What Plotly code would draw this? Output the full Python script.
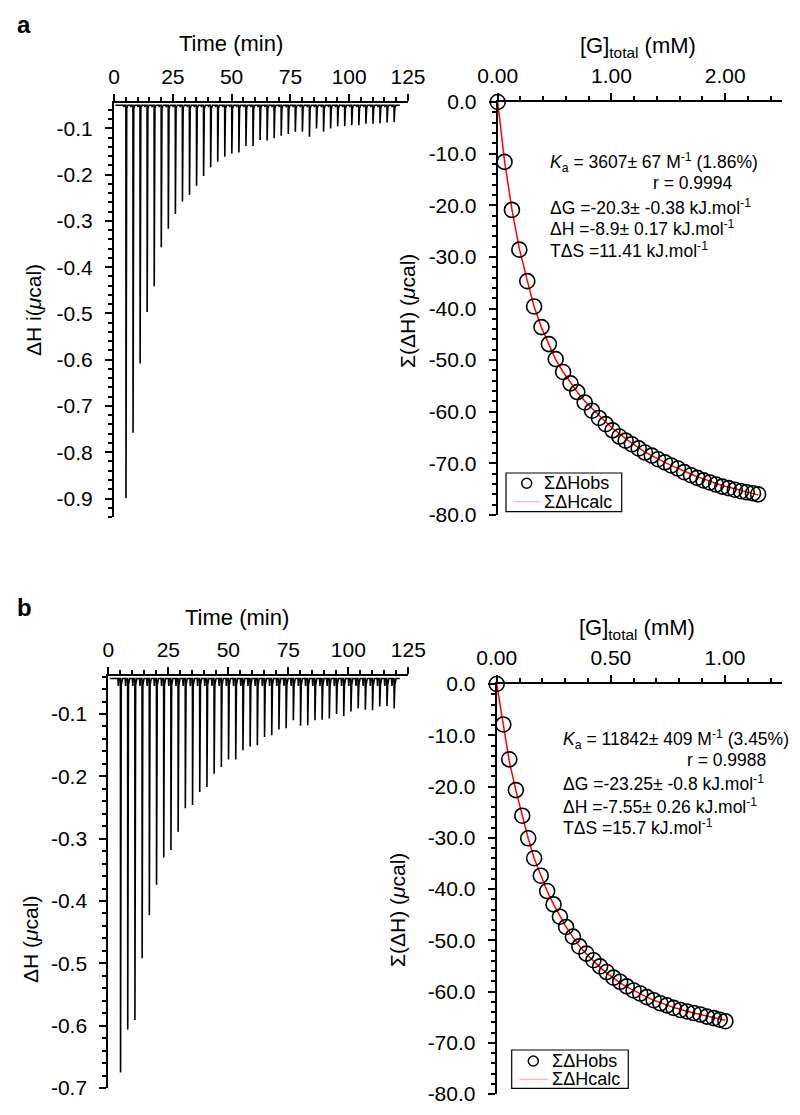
import plotly.graph_objects as go

# ---------------- data ----------------
inj_time = [5.1, 8.1, 11.1, 14.1, 17.1, 20.1, 23.1, 26.1, 29.1, 32.1, 35.1, 38.1, 41.1,
            44.1, 47.1, 50.1, 53.1, 56.1, 59.1, 62.1, 65.1, 68.1, 71.1, 74.1, 77.1, 80.1,
            83.1, 86.1, 89.1, 92.1, 95.1, 98.1, 101.1, 104.1, 107.1, 110.1, 113.1, 116.1, 119.1]

peak_a = [-0.899, -0.758, -0.608, -0.497, -0.441, -0.357, -0.317, -0.285, -0.258, -0.244,
          -0.224, -0.203, -0.184, -0.172, -0.161, -0.154, -0.152, -0.138, -0.138, -0.125,
          -0.126, -0.121, -0.116, -0.112, -0.107, -0.107, -0.118, -0.100, -0.107, -0.100,
          -0.095, -0.095, -0.093, -0.093, -0.090, -0.090, -0.089, -0.087, -0.086]
baseline_a = -0.050

peak_b = [-0.675, -0.606, -0.591, -0.492, -0.423, -0.374, -0.330, -0.318, -0.289, -0.251,
          -0.246, -0.225, -0.217, -0.196, -0.185, -0.173, -0.173, -0.158, -0.152, -0.150,
          -0.137, -0.134, -0.125, -0.123, -0.110, -0.119, -0.118, -0.110, -0.109, -0.107,
          -0.100, -0.103, -0.096, -0.091, -0.093, -0.094, -0.088, -0.087, -0.091]
baseline_b = -0.043

conc_a = [0, 0.06, 0.125, 0.19, 0.26, 0.32, 0.385, 0.45, 0.51, 0.575,
          0.64, 0.70, 0.765, 0.83, 0.89, 0.95, 1.01, 1.07, 1.125, 1.18,
          1.24, 1.295, 1.355, 1.41, 1.47, 1.525, 1.585, 1.64, 1.70, 1.755,
          1.81, 1.865, 1.92, 1.975, 2.03, 2.085, 2.14, 2.19, 2.245, 2.29]
obs_a = [0, -11.6, -20.9, -28.6, -34.7, -39.6, -43.6, -46.9, -49.8, -52.3,
         -54.5, -56.2, -58.2, -59.8, -61.2, -62.4, -63.6, -64.8, -65.6, -66.3,
         -67.1, -67.9, -68.5, -69.2, -69.8, -70.4, -71.0, -71.7, -72.3, -72.8,
         -73.3, -73.7, -74.1, -74.5, -74.8, -75.1, -75.4, -75.6, -75.8, -76.0]
calc_a = [0, -11.4, -20.8, -28.4, -34.6, -39.6, -43.7, -47.1, -49.9, -52.3,
          -54.4, -56.2, -57.9, -59.4, -60.8, -62.0, -63.2, -64.3, -65.2, -66.1,
          -67.0, -67.8, -68.5, -69.2, -69.8, -70.4, -71.0, -71.5, -72.1, -72.6,
          -73.0, -73.5, -73.9, -74.3, -74.6, -75.0, -75.3, -75.6, -75.8, -76.1]

conc_b = [0, 0.029, 0.055, 0.084, 0.112, 0.138, 0.164, 0.193, 0.221, 0.249,
          0.277, 0.304, 0.334, 0.362, 0.393, 0.424, 0.453, 0.482, 0.512, 0.541,
          0.570, 0.600, 0.629, 0.658, 0.688, 0.717, 0.746, 0.775, 0.805, 0.834,
          0.863, 0.892, 0.921, 0.951, 0.977, 1.002]
obs_b = [0, -7.9, -14.7, -20.7, -25.7, -30.1, -34.0, -37.4, -40.4, -43.0,
         -45.4, -47.4, -49.3, -51.2, -52.6, -53.9, -55.1, -56.2, -57.3, -58.1,
         -59.0, -59.8, -60.4, -61.1, -61.7, -62.3, -62.7, -63.2, -63.6, -63.9,
         -64.2, -64.5, -64.9, -65.2, -65.5, -65.8]
calc_b = [0, -8.3, -15.0, -20.8, -25.8, -30.1, -34.0, -37.4, -40.4, -43.0,
          -45.3, -47.4, -49.4, -51.1, -52.7, -54.1, -55.3, -56.4, -57.4, -58.3,
          -59.1, -59.8, -60.5, -61.1, -61.7, -62.2, -62.7, -63.1, -63.5, -63.9,
          -64.2, -64.5, -64.8, -65.1, -65.4, -65.6]

# tick labels
time_ticks = [0, 25, 50, 75, 100, 125]
time_labels = ["0", "25", "50", "75", "100", "125"]
dh_a_ticks = [-0.1, -0.2, -0.3, -0.4, -0.5, -0.6, -0.7, -0.8, -0.9]
dh_a_labels = ["-0.1", "-0.2", "-0.3", "-0.4", "-0.5", "-0.6", "-0.7", "-0.8", "-0.9"]
dh_b_ticks = [-0.1, -0.2, -0.3, -0.4, -0.5, -0.6, -0.7]
dh_b_labels = ["-0.1", "-0.2", "-0.3", "-0.4", "-0.5", "-0.6", "-0.7"]
sum_ticks = [0, -10, -20, -30, -40, -50, -60, -70, -80]
sum_labels = ["0.0", "-10.0", "-20.0", "-30.0", "-40.0", "-50.0", "-60.0", "-70.0", "-80.0"]
conc_a_ticks = [0, 1, 2]
conc_a_labels = ["0.00", "1.00", "2.00"]
conc_b_ticks = [0, 0.5, 1.0]
conc_b_labels = ["0.00", "0.50", "1.00"]

legend_names = ["ΣΔHobs", "ΣΔHcalc"]

text_a = ["<i>K</i><sub>a</sub> = 3607± 67 M<sup>-1</sup> (1.86%)", "r = 0.9994",
          "ΔG =-20.3± -0.38 kJ.mol<sup>-1</sup>", "ΔH =-8.9± 0.17 kJ.mol<sup>-1</sup>",
          "TΔS =11.41 kJ.mol<sup>-1</sup>"]
text_b = ["<i>K</i><sub>a</sub> = 11842± 409 M<sup>-1</sup> (3.45%)", "r = 0.9988",
          "ΔG =-23.25± -0.8 kJ.mol<sup>-1</sup>", "ΔH =-7.55± 0.26 kJ.mol<sup>-1</sup>",
          "TΔS =15.7 kJ.mol<sup>-1</sup>"]

# ---------------- helpers ----------------
# the page body has an 8px margin, so the figure is 8px smaller and offset
OFF = 8
W, H = 800 - OFF, 1115 - OFF
FONT = "Arial, 'Liberation Sans', sans-serif"


def px(x):
    return (x - OFF) / W


def py(y):
    return 1 - (y - OFF) / H


def thermogram(times, peaks, base, pre, tail):
    xs, ys = [0.6], [base]
    for t, d in zip(times, peaks):
        xs += [t - 1.1, t - 0.9, t - 0.7, t - 0.05, t, t + 0.3, t + 0.8]
        ys += [base, base - pre, base, base, d, base - tail, base]
    xs.append(121.5)
    ys.append(base)
    return xs, ys


fig = go.Figure()

xa, ya = thermogram(inj_time, peak_a, baseline_a, 0.004, 0.006)
fig.add_trace(go.Scatter(x=xa, y=ya, mode="lines", line=dict(color="black", width=1.6),
                         showlegend=False, xaxis="x", yaxis="y"))
xb, yb = thermogram(inj_time, peak_b, baseline_b, 0.012, 0.010)
fig.add_trace(go.Scatter(x=xb, y=yb, mode="lines", line=dict(color="black", width=1.6),
                         showlegend=False, xaxis="x3", yaxis="y3"))

for conc, obs, calc, xax, yax in [(conc_a, obs_a, calc_a, "x2", "y2"),
                                  (conc_b, obs_b, calc_b, "x4", "y4")]:
    fig.add_trace(go.Scatter(x=conc, y=calc, mode="lines", name=legend_names[1],
                             line=dict(color="#ff0000", width=1.5),
                             showlegend=False, xaxis=xax, yaxis=yax, cliponaxis=False))
    fig.add_trace(go.Scatter(x=conc, y=obs, mode="markers", name=legend_names[0],
                             marker=dict(symbol="circle-open", size=15, color="black",
                                         line=dict(width=1.6, color="black")),
                             showlegend=False, xaxis=xax, yaxis=yax, cliponaxis=False))

axis_common = dict(showline=True, linecolor="black", linewidth=2, ticks="outside",
                   ticklen=7, tickwidth=1.5, tickcolor="black", showgrid=False,
                   zeroline=False, automargin=False,
                   tickfont=dict(size=21, color="black", family=FONT))
x_common = dict(axis_common, side="top", ticklabelstandoff=2)
y_common = dict(axis_common, ticklabelstandoff=8)


def minor(d):
    return dict(dtick=d, ticks="outside", ticklen=4, tickwidth=1.5, tickcolor="black",
                showgrid=False)


layout = dict(
    template="none",
    width=W, height=H, margin=dict(l=0, r=0, t=0, b=0, autoexpand=False),
    plot_bgcolor="white", paper_bgcolor="white", showlegend=False,
    font=dict(family=FONT, color="black"),
    xaxis=dict(x_common, domain=[px(114), px(408)], range=[0, 125], anchor="y",
               tickvals=time_ticks, ticktext=time_labels, minor=minor(5)),
    yaxis=dict(y_common, domain=[py(517), py(103)], range=[-0.94, -0.045], anchor="x",
               tickvals=dh_a_ticks, ticktext=dh_a_labels, minor=minor(0.02)),
    xaxis2=dict(x_common, domain=[px(497.7), px(782)], range=[0, 2.5], anchor="y2",
                tickvals=conc_a_ticks, ticktext=conc_a_labels, minor=minor(0.2)),
    yaxis2=dict(y_common, domain=[py(515), py(102)], range=[-80, 0], anchor="x2",
                tickvals=sum_ticks, ticktext=sum_labels, minor=minor(2)),
    xaxis3=dict(x_common, domain=[px(108.3), px(408.3)], range=[0, 125], anchor="y3",
                tickvals=time_ticks, ticktext=time_labels, minor=minor(5)),
    yaxis3=dict(y_common, domain=[py(1088), py(676)], range=[-0.70, -0.039], anchor="x3",
                tickvals=dh_b_ticks, ticktext=dh_b_labels, minor=minor(0.02)),
    xaxis4=dict(x_common, domain=[px(496.7), px(782)], range=[0, 1.25], anchor="y4",
                tickvals=conc_b_ticks, ticktext=conc_b_labels, minor=minor(0.1)),
    yaxis4=dict(y_common, domain=[py(1094), py(684)], range=[-80, 0], anchor="x4",
                tickvals=sum_ticks, ticktext=sum_labels, minor=minor(2)),
)
fig.update_layout(**layout)


def ann(text, x, y, size, xanchor="center", yanchor="middle", angle=0):
    fig.add_annotation(text=text, x=px(x), y=py(y), xref="paper", yref="paper",
                       xanchor=xanchor, yanchor=yanchor, showarrow=False, textangle=angle,
                       font=dict(size=size, family=FONT, color="black"))


ann("<b>a</b>", 24, 24, 24)
ann("<b>b</b>", 24, 607, 24)
ann("Time (min)", 231, 44, 22)
ann("Time (min)", 237, 617, 22)
ann("[G]<sub>total</sub> (mM)", 638, 47, 22)
ann("[G]<sub>total</sub> (mM)", 637, 629, 22)
ann("ΔH i(<i>μ</i>cal)", 33, 310, 21, angle=-90)
ann("ΔH (<i>μ</i>cal)", 30, 940, 21, angle=-90)
ann("Σ(ΔH) (<i>μ</i>cal)", 407, 311, 21, angle=-90)
ann("Σ(ΔH) (<i>μ</i>cal)", 397, 910, 21, angle=-90)

ys_a = [162, 183, 207, 228, 250]
ys_b = [739, 760, 783, 806, 827]
for i in range(5):
    if i == 1:
        ann(text_a[i], 735, ys_a[i], 17.5, xanchor="right")
        ann(text_b[i], 768, ys_b[i], 17.5, xanchor="right")
    else:
        ann(text_a[i], 548, ys_a[i], 17.5, xanchor="left")
        ann(text_b[i], 561, ys_b[i], 17.5, xanchor="left")


# hand-drawn legend boxes (positions in reference pixels)
def legend_box(x0, y0, x1, y1, cx, cy1, lx0, lx1, cy2, tx):
    fig.add_shape(type="rect", xref="paper", yref="paper", x0=px(x0), x1=px(x1),
                  y0=py(y1), y1=py(y0), line=dict(color="black", width=1.2),
                  fillcolor="white", layer="above")
    fig.add_shape(type="circle", xref="paper", yref="paper", x0=px(cx - 5), x1=px(cx + 5),
                  y0=py(cy1 + 5), y1=py(cy1 - 5), line=dict(color="black", width=1.5),
                  layer="above")
    fig.add_shape(type="line", xref="paper", yref="paper", x0=px(lx0), x1=px(lx1),
                  y0=py(cy2), y1=py(cy2), line=dict(color="rgba(255,0,0,0.35)", width=1),
                  layer="above")
    ann(legend_names[0], tx, cy1, 18, xanchor="left")
    ann(legend_names[1], tx, cy2, 18, xanchor="left")


legend_box(506, 473, 621.7, 511.7, 526.7, 483.3, 513.3, 540, 501.7, 542)
legend_box(511.7, 1050, 628.3, 1088.3, 533.3, 1061, 519.3, 548.3, 1079.3, 550)

fig.write_html("out.html")
